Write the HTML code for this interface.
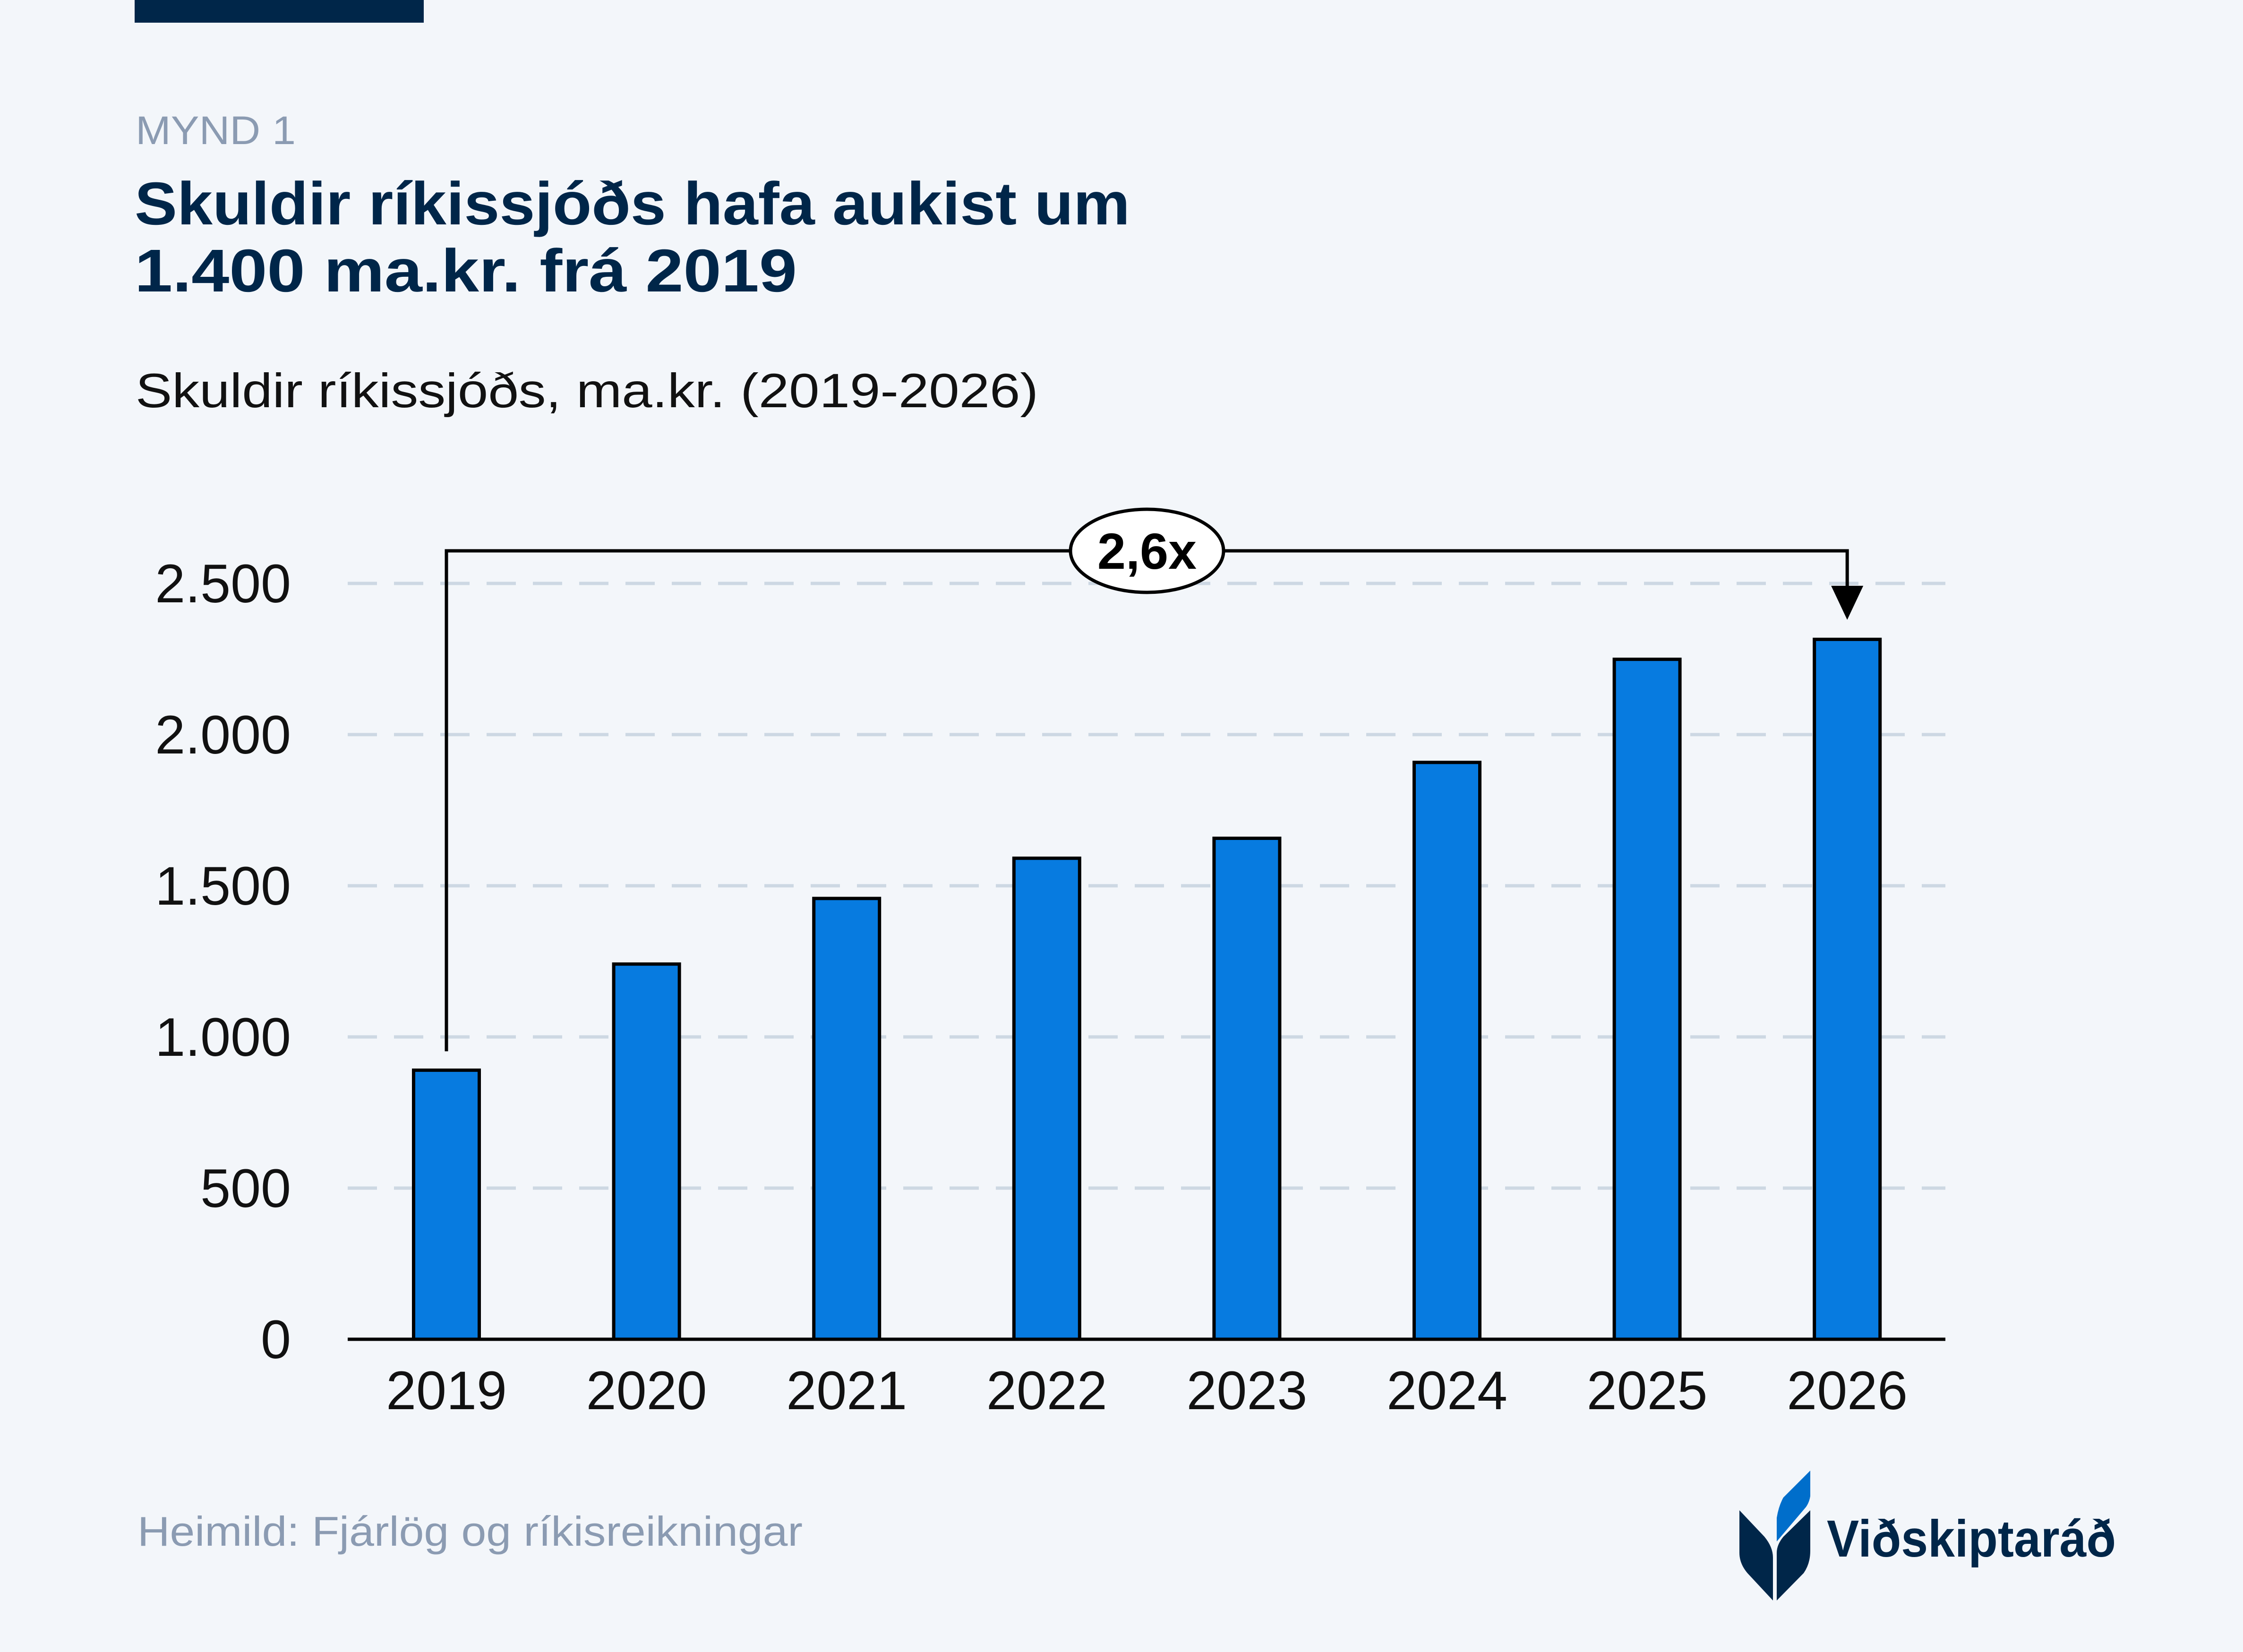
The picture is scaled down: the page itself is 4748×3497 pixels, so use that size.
<!DOCTYPE html>
<html><head><meta charset="utf-8"><style>
html,body{margin:0;padding:0;background:#f3f6fa;}
svg{display:block;font-family:"Liberation Sans",sans-serif;}
</style></head><body>
<svg id="chart" width="4748" height="3497" viewBox="0 0 4748 3497" xmlns="http://www.w3.org/2000/svg">
<rect width="4748" height="3497" fill="#f3f6fa"/>
<rect x="285" y="0" width="612" height="48" fill="#002649"/>
<text x="287" y="305" font-size="84" fill="#8b9bb2" textLength="339" lengthAdjust="spacingAndGlyphs">MYND 1</text>
<text font-size="128" font-weight="bold" fill="#002649">
<tspan x="285" y="475" textLength="2107" lengthAdjust="spacingAndGlyphs">Skuldir ríkissjóðs hafa aukist um</tspan>
<tspan x="285" y="617" textLength="1402" lengthAdjust="spacingAndGlyphs">1.400 ma.kr. frá 2019</tspan></text>
<text x="287" y="862" font-size="102" fill="#111" textLength="1911" lengthAdjust="spacingAndGlyphs">Skuldir ríkissjóðs, ma.kr. (2019-2026)</text>
<g id="grid"></g>
<g id="yticks"></g>
<g id="bars"></g>
<g id="xticks"></g>
<line x1="736" y1="2835" x2="4118" y2="2835" stroke="#000" stroke-width="7"/>
<g id="annot"></g>
<text x="291" y="3272" font-size="88" fill="#8b9bb2" textLength="1408" lengthAdjust="spacingAndGlyphs">Heimild: Fjárlög og ríkisreikningar</text>
<g>
<path d="M3832 3113 L3832 3167 Q3830 3180 3823 3190 L3761 3263 L3761 3213 Q3765 3188 3775 3170 Z" fill="#006ecb"/>
<path d="M3682 3197 L3735 3253 Q3753 3275 3753 3297 L3753 3388 L3699 3330 Q3682 3310 3682 3287 Z" fill="#002649"/>
<path d="M3832 3197 L3775 3253 Q3761 3270 3761 3287 L3761 3388 L3818 3330 Q3832 3310 3832 3283 Z" fill="#002649"/>
<text x="3867" y="3295" font-size="110" font-weight="bold" fill="#002649" textLength="612" lengthAdjust="spacingAndGlyphs">Viðskiptaráð</text>
</g>
</svg>
<script>
const categories = ["2019","2020","2021","2022","2023","2024","2025","2026"];
const debtValues = [890, 1241, 1458, 1591, 1657, 1908, 2249, 2315];
const yTickValues = [0, 500, 1000, 1500, 2000, 2500];
const yTickLabels = ["0","500","1.000","1.500","2.000","2.500"];
const multiplierLabel = "2,6x";

const NS = "http://www.w3.org/2000/svg";
const plotLeft = 736, plotRight = 4118, y0 = 2835, yTop2500 = 1235;
function yScale(v){ return y0 - (v/2500)*(y0 - yTop2500); }
const firstCenter = 945, step = 423.6;
function xScale(i){ return firstCenter + i*step; }
const barW = 139;
function mk(tag, attrs, parent){ const e=document.createElementNS(NS,tag); for(const k in attrs) e.setAttribute(k,attrs[k]); parent.appendChild(e); return e; }

const grid=document.getElementById('grid'), yt=document.getElementById('yticks');
yTickValues.forEach((v,i)=>{
  const y=yScale(v);
  if(v>0){
    const l=mk('line',{x1:plotLeft,y1:y,x2:plotRight,y2:y,stroke:'#cdd8e3','stroke-width':7,'stroke-dasharray':'62 36'},grid);
    
    
  }
  const t=mk('text',{x:616,y:y+40,'font-size':115,'text-anchor':'end',fill:'#111'},yt);
  t.textContent=yTickLabels[i];
  
  
});
const bars=document.getElementById('bars'), xt=document.getElementById('xticks');
categories.forEach((c,i)=>{
  const cx=xScale(i), top=yScale(debtValues[i]);
  const r=mk('rect',{x:cx-barW/2,y:top,width:barW,height:y0-top,fill:'#077be0',stroke:'#000','stroke-width':7},bars);
  
  
  const t=mk('text',{x:cx,y:2983,'font-size':115,'text-anchor':'middle',fill:'#111'},xt);
  t.textContent=c;
  
  
});
const an=document.getElementById('annot');
const ly=1166, x1=xScale(0), x2=xScale(categories.length-1);
const p=mk('path',{d:`M${x1} ${yScale(debtValues[0])-40} L${x1} ${ly} L${x2} ${ly} L${x2} ${1245}`,fill:'none',stroke:'#000','stroke-width':7},an);


const ar=mk('path',{d:`M${x2-34} 1240 L${x2+34} 1240 L${x2} 1312 Z`,fill:'#000'},an);


const el=mk('ellipse',{cx:2428,cy:ly,rx:162,ry:88,fill:'#fff',stroke:'#000','stroke-width':7},an);


const tt=mk('text',{x:2428,y:ly+38,'font-size':108,'font-weight':'bold','text-anchor':'middle',fill:'#000'},an);
tt.textContent=multiplierLabel;


</script>
</body></html>
